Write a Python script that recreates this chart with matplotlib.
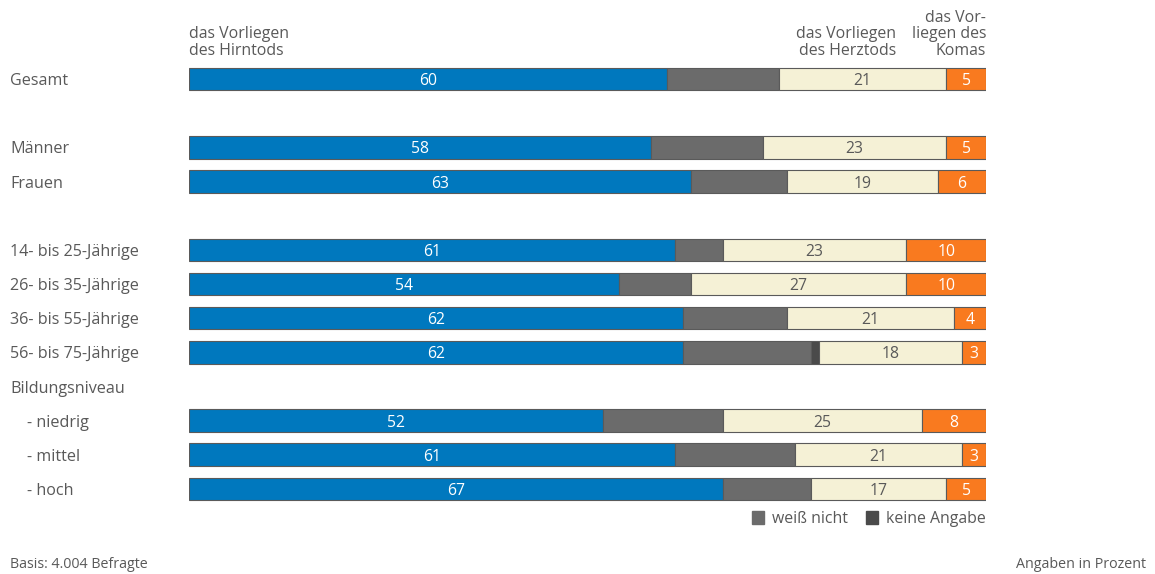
import matplotlib
matplotlib.use("Agg")
import matplotlib.pyplot as plt
from matplotlib.patches import Patch
from matplotlib.transforms import blended_transform_factory

plt.rcParams['font.family'] = ['Open Sans', 'DejaVu Sans']

categories = ["Gesamt", "Männer", "Frauen", "14- bis 25-Jährige", "26- bis 35-Jährige",
              "36- bis 55-Jährige", "56- bis 75-Jährige", "- niedrig", "- mittel", "- hoch"]
row_pos = [0, 2, 3, 5, 6, 7, 8, 10, 11, 12]
indented = [False, False, False, False, False, False, False, True, True, True]
hirntod = [60, 58, 63, 61, 54, 62, 62, 52, 61, 67]
weiss_nicht = [14, 14, 12, 6, 9, 13, 16, 15, 15, 11]
keine_angabe = [0, 0, 0, 0, 0, 0, 1, 0, 0, 0]
herztod = [21, 23, 19, 23, 27, 21, 18, 25, 21, 17]
koma = [5, 5, 6, 10, 10, 4, 3, 8, 3, 5]
group_label = "Bildungsniveau"
group_pos = 9

series = [
    (hirntod, "#0078BE", "white", True),
    (weiss_nicht, "#6B6B6B", None, False),
    (keine_angabe, "#4A4A4A", None, False),
    (herztod, "#F5F1D6", "#595959", True),
    (koma, "#F97A1F", "white", True),
]

fig = plt.figure(figsize=(11.55, 5.74), dpi=100)
ax = fig.add_axes([189/1155, 1-506/574, (986-189)/1155, (506-62)/574])

dy = 0.06
left = [0]*len(categories)
for vals, color, tcolor, show in series:
    ax.barh(row_pos, vals, left=left, height=0.66, color=color,
            edgecolor="#5a5a5a", linewidth=0.8)
    if show:
        for y, l, v in zip(row_pos, left, vals):
            ax.text(l + v/2, y + dy, str(v), ha="center", va="center",
                    color=tcolor, fontsize=11.3)
    left = [a + b for a, b in zip(left, vals)]

ax.set_xlim(0, 100)
ax.set_ylim(12.5, -0.5)
ax.axis("off")

trans = blended_transform_factory(fig.transFigure, ax.transData)
textc = "#595959"
fs = 11.6
for y, c, ind in zip(row_pos, categories, indented):
    x = 27/1155 if ind else 10/1155
    ax.text(x, y + dy, c, transform=trans, ha="left", va="center", fontsize=fs, color=textc)
ax.text(10/1155, group_pos + dy, group_label, transform=trans, ha="left", va="center",
        fontsize=fs, color=textc)

hfs = 11.4
fig.text(189/1155, 1-59/574, "das Vorliegen\ndes Hirntods", ha="left", va="bottom",
         fontsize=hfs, color=textc, linespacing=1.05)
fig.text(896/1155, 1-59/574, "das Vorliegen\ndes Herztods", ha="right", va="bottom",
         fontsize=hfs, color=textc, linespacing=1.05, multialignment="right")
fig.text(986/1155, 1-59/574, "das Vor-\nliegen des\nKomas", ha="right", va="bottom",
         fontsize=hfs, color=textc, linespacing=1.05, multialignment="right")

handles = [Patch(facecolor="#6B6B6B", edgecolor="#6B6B6B", label="weiß nicht"),
           Patch(facecolor="#4A4A4A", edgecolor="#4A4A4A", label="keine Angabe")]
fig.legend(handles=handles, loc="center right", bbox_to_anchor=(986/1155, 1-519/574),
           ncol=2, frameon=False, fontsize=11.4, handlelength=0.8, handleheight=0.8,
           handletextpad=0.5, columnspacing=1.1, labelcolor=textc, borderaxespad=0,
           borderpad=0)

fig.text(10/1155, 1-564/574, "Basis: 4.004 Befragte", ha="left", va="center",
         fontsize=10.3, color=textc)
fig.text(1146/1155, 1-564/574, "Angaben in Prozent", ha="right", va="center",
         fontsize=10.3, color=textc)

fig.savefig("out.png", dpi=100)
